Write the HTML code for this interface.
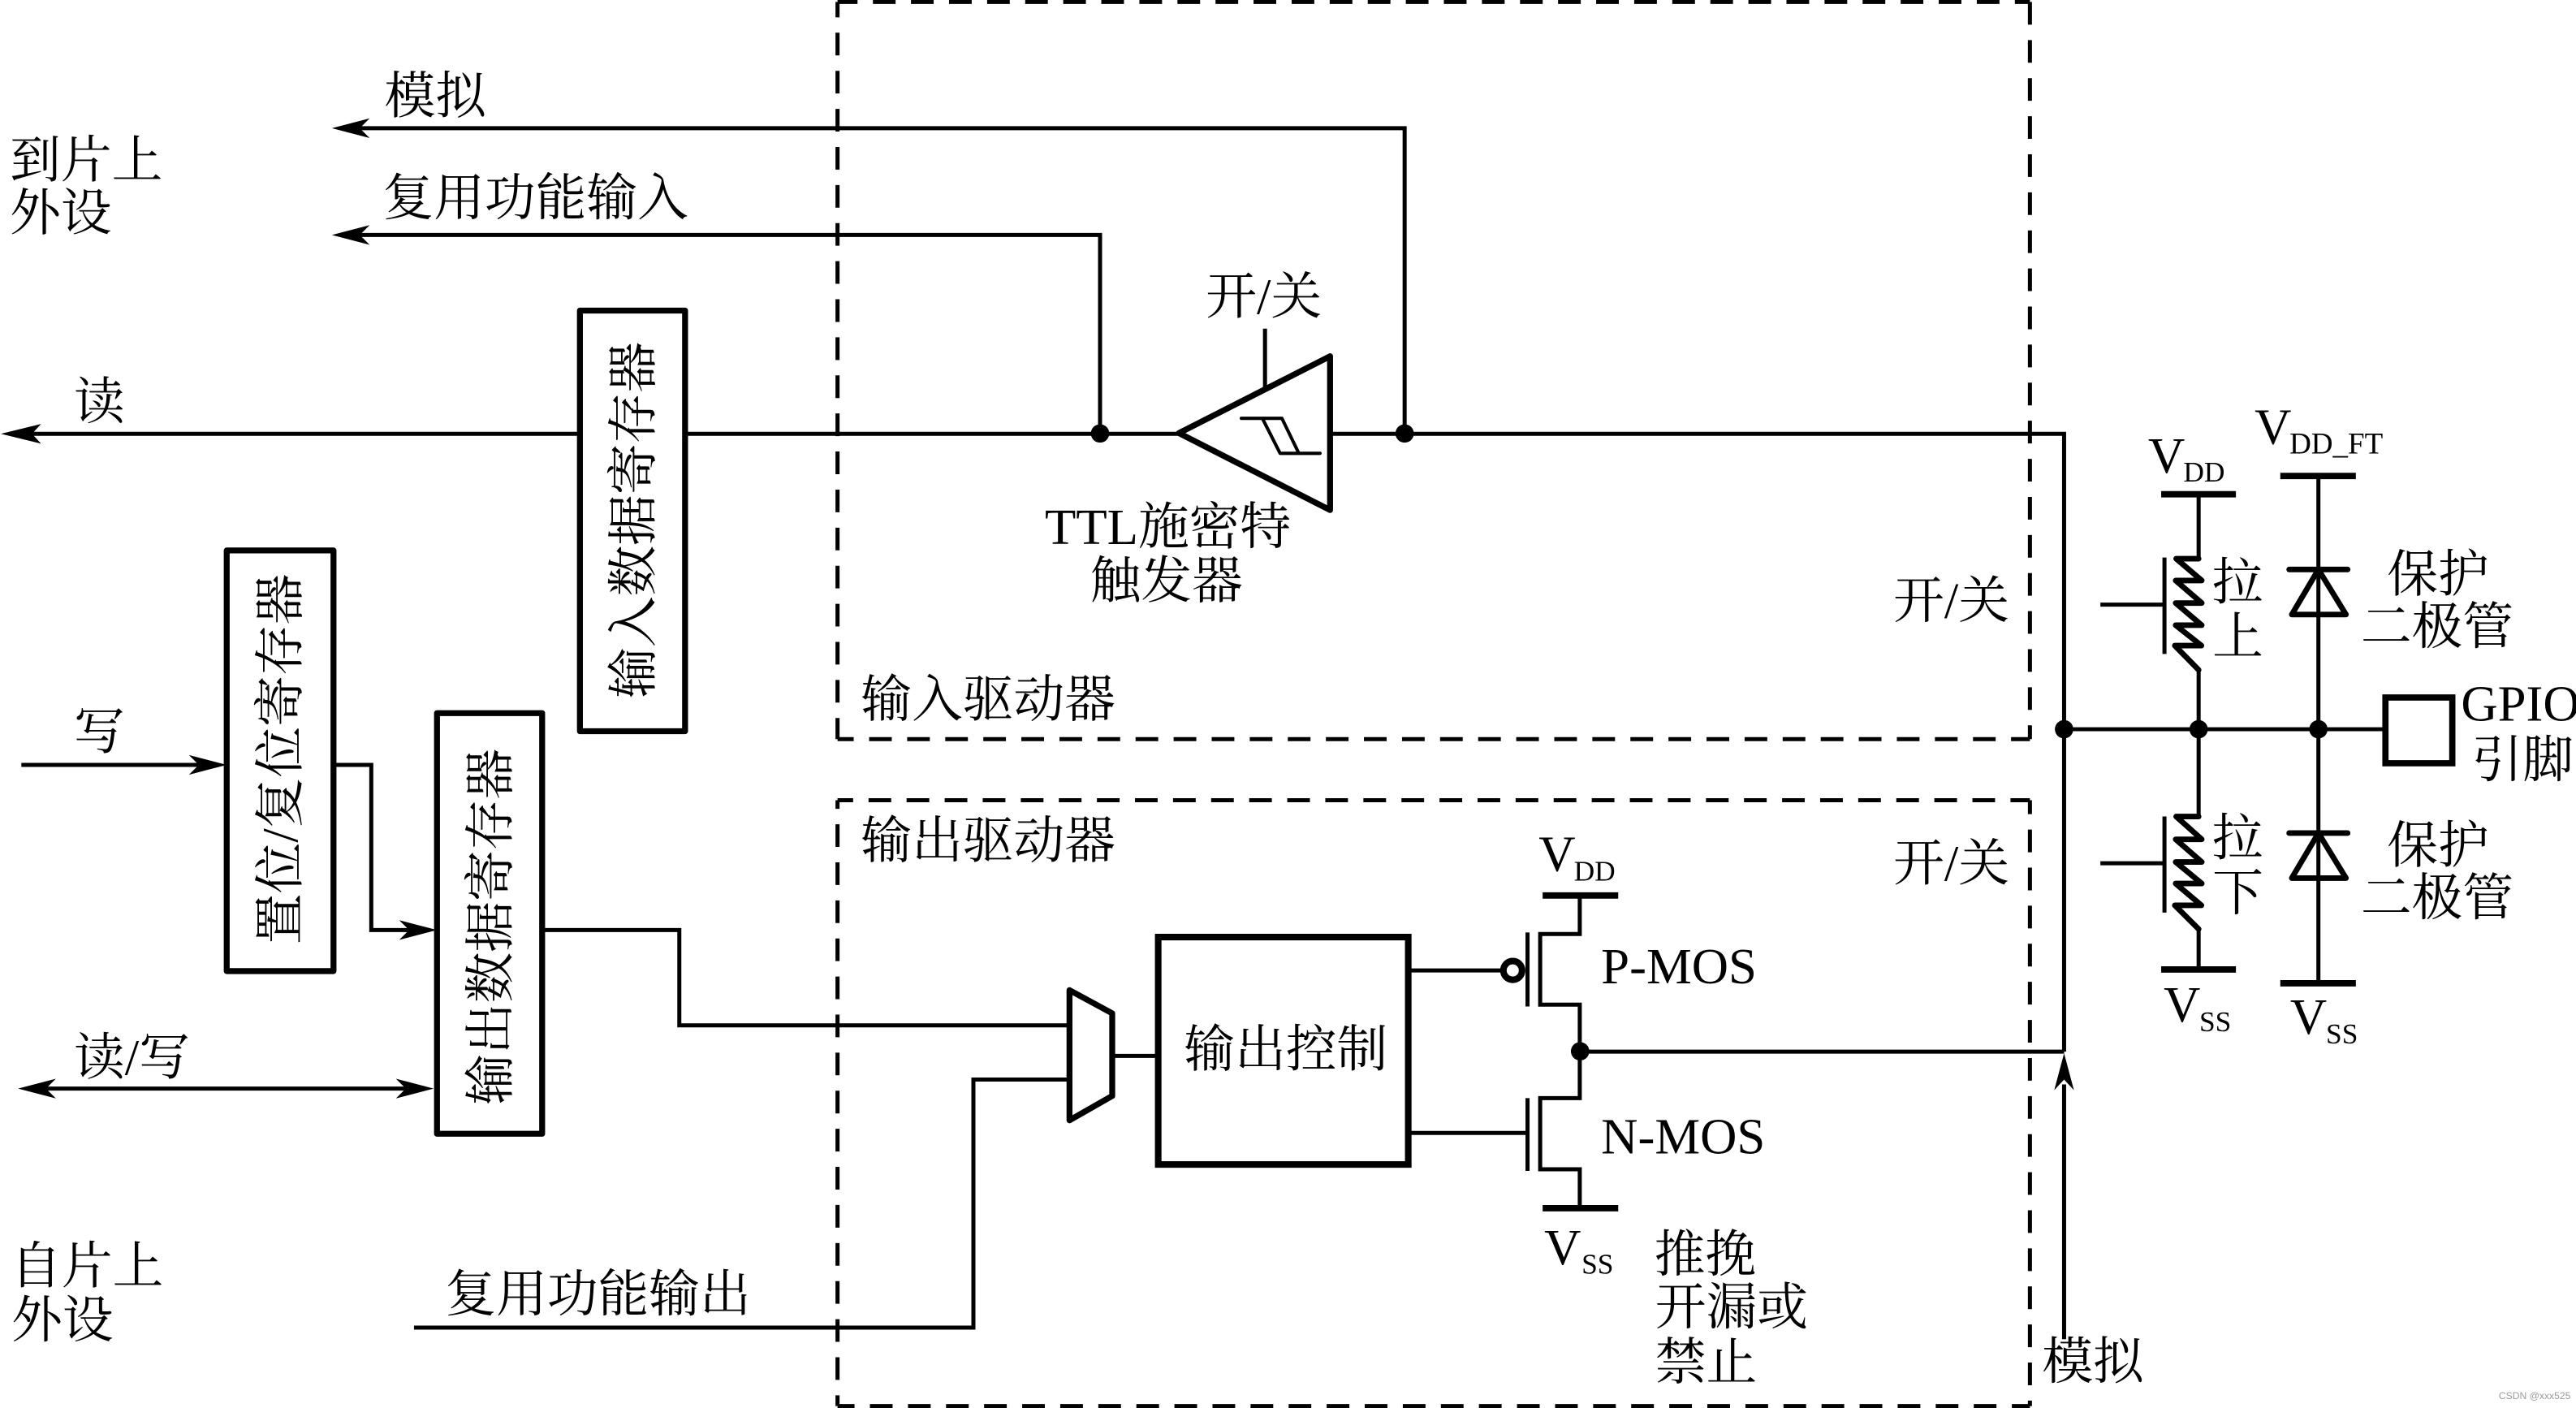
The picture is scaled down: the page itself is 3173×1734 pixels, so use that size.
<!DOCTYPE html>
<html lang="zh">
<head>
<meta charset="utf-8">
<title>GPIO</title>
<style>
html,body{margin:0;padding:0;background:#fff;overflow:hidden;width:3173px;height:1734px}
svg{display:block}
text{font-family:"Liberation Serif","Noto Serif CJK SC",serif;font-size:31px;fill:#000}
.s{font-size:17.5px}
.l{fill:none;stroke:#000;stroke-width:2.47}
.t{fill:none;stroke:#000;stroke-width:3.6;stroke-linejoin:round;stroke-linecap:round}
.z{fill:none;stroke:#000;stroke-width:3.4;stroke-linejoin:round;stroke-linecap:round}
.bar{fill:none;stroke:#000;stroke-width:3.9}
.d{fill:none;stroke:#000;stroke-width:2.47;stroke-dasharray:13.8 9.37}
.a{fill:#000;stroke:none}
</style>
</head>
<body>
<svg width="3173" height="1734" viewBox="0 0 1568 856.9" preserveAspectRatio="none" xmlns="http://www.w3.org/2000/svg">
<rect x="0" y="0" width="1568" height="857" fill="#fff"/>

<!-- dashed boxes -->
<path class="d" stroke-dashoffset="1.63" d="M509.8 1.2H1235.6"/>
<path class="d" stroke-dashoffset="4.45" d="M509.8 1.2V449.8"/>
<path class="d" d="M1235.6 1.2V449.8"/>
<path class="d" stroke-dashoffset="3.95" d="M509.8 449.8H1235.6"/>
<path class="d" stroke-dashoffset="4.3" d="M509.8 487H1235.6"/>
<path class="d" stroke-dashoffset="8.55" d="M509.8 487V855.7"/>
<path class="d" stroke-dashoffset="5.3" d="M1235.6 487V855.7"/>
<path class="d" stroke-dashoffset="3.46" d="M509.8 855.7H1235.6"/>

<!-- top signal lines -->
<path class="l" d="M855 264V78H215"/>
<path class="a" d="M202 78L225 72L219 78L225 84Z"/>
<path class="l" d="M669.6 264V143H215"/>
<path class="a" d="M202 143L225 137L219 143L225 149Z"/>
<path class="l" d="M353 264H15"/>
<path class="a" d="M0.5 264L25 258L19.5 264L25 270Z"/>
<path class="l" d="M417 264H717"/>
<path class="l" d="M810 264H1256.4V640"/>
<path class="l" d="M1256.4 660V815"/>
<path class="a" d="M1256.4 641L1262.4 663.5L1256.4 657L1250.4 663.5Z"/>
<circle cx="669.6" cy="263.8" r="5.6"/>
<circle cx="855" cy="263.8" r="5.6"/>

<!-- Schmitt trigger -->
<path class="t" d="M717.6 263.6L809.6 216.8V310.4Z"/>
<path class="l" d="M770 200V237"/>
<path d="M755.6 254.6H780.3L790.6 275.9H803.5M768.4 254.6L779.2 275.9H790.6" fill="none" stroke="#000" stroke-width="2" stroke-linecap="round" stroke-linejoin="round"/>

<!-- registers -->
<rect class="t" x="353" y="189" width="64" height="256"/>
<rect class="t" x="138" y="335" width="65" height="256"/>
<rect class="t" x="266" y="434" width="64" height="256"/>
<text transform="translate(396 316.5) rotate(-90)" text-anchor="middle">输入数据寄存器</text>
<text transform="translate(181 462) rotate(-90)" text-anchor="middle">置位/复位寄存器</text>
<text transform="translate(309 564) rotate(-90)" text-anchor="middle">输出数据寄存器</text>

<!-- left connections -->
<path class="l" d="M13 465.5H125"/>
<path class="a" d="M138 465.5L115 459.5L121 465.5L115 471.5Z"/>
<path class="l" d="M203 465.5H226V566H254"/>
<path class="a" d="M266 566L243 560L249 566L243 572Z"/>
<path class="l" d="M24 662.5H252"/>
<path class="a" d="M11 662.5L34 656.5L28 662.5L34 668.5Z"/>
<path class="a" d="M264 662.5L241 656.5L247 662.5L241 668.5Z"/>
<path class="l" d="M330 566H413.5V624H651"/>
<path class="l" d="M252 808H592.5V657H651"/>

<!-- mux and control -->
<path class="t" d="M651 602.6L677 616.7V667L651 681.8Z"/>
<path class="l" d="M677 642.6H705"/>
<rect x="705" y="570.3" width="152.2" height="138.4" fill="none" stroke="#000" stroke-width="4"/>
<text x="720.7" y="649">输出控制</text>

<!-- MOS -->
<path class="bar" d="M939 545H985"/>
<path class="l" d="M961.6 545V568.4H937.5V611.4H961.6V668.3H937.5V711.6H961.6V735.3"/>
<path class="bar" d="M939 735.3H985"/>
<path class="l" d="M929.8 567.5V612.5M929.8 668.3V712.6"/>
<path class="l" d="M857 590.6H915"/>
<circle cx="920.8" cy="590.6" r="5.7" fill="#fff" stroke="#000" stroke-width="4"/>
<path class="l" d="M857 689.5H930"/>
<circle cx="961.8" cy="639.8" r="5.6"/>
<path class="l" d="M961.8 640H1256.4"/>

<!-- right side -->
<path class="l" d="M1256.4 443.8H1452"/>
<circle cx="1256.4" cy="443.8" r="5.6"/>
<circle cx="1338.3" cy="443.8" r="5.6"/>
<circle cx="1411.2" cy="443.8" r="5.6"/>
<rect x="1452" y="424.5" width="40.7" height="40" fill="#fff" stroke="#000" stroke-width="3.8"/>

<path class="bar" d="M1315.5 300.8H1361"/>
<path class="l" d="M1338.3 300.8V340.6M1338.3 408.9V496.9M1338.3 565.4V590"/>
<path class="z" d="M1338.3 340H1324.6L1340.2 353.3H1324.3L1340.2 367H1324.3L1340.2 380.5H1324.3L1340 392.9H1323.8L1338.3 407.7"/>
<path class="l" d="M1317.5 339.3V398M1278.5 368H1317.5"/>
<path class="z" d="M1338.3 496.9H1324.6L1340.2 510.8H1324.3L1340.2 524.6H1324.3L1340.2 537.7H1324.3L1340 551H1323.8L1338.3 565.4"/>
<path class="l" d="M1317.5 496.9V555.4M1278.5 525.4H1317.5"/>
<path class="bar" d="M1315.5 590H1361"/>

<path class="bar" d="M1388 289.7H1434"/>
<path class="l" d="M1411.2 289.7V598.4"/>
<path class="bar" d="M1388 598.4H1434"/>
<path class="z" d="M1393.4 346.6H1429"/>
<path class="z" d="M1411.2 346.6L1395 374H1428Z"/>
<path class="z" d="M1393.4 507H1429"/>
<path class="z" d="M1411.2 507L1395 534.4H1428Z"/>

<!-- labels -->
<text x="234" y="69">模拟</text>
<text x="6" y="108">到片上</text>
<text x="6" y="140">外设</text>
<text x="233" y="131">复用功能输入</text>
<text x="45" y="255">读</text>
<text x="734" y="191">开/关</text>
<text x="636" y="331">TTL施密特</text>
<text x="663.5" y="364">触发器</text>
<text x="1152.5" y="376">开/关</text>
<text x="524" y="436">输入驱动器</text>
<text x="524" y="522">输出驱动器</text>
<text x="1152.5" y="536">开/关</text>
<text x="45" y="456">写</text>
<text x="45" y="654">读/写</text>
<text x="6.5" y="781">自片上</text>
<text x="7" y="814">外设</text>
<text x="271" y="798">复用功能输出</text>
<text x="1007" y="774">推挽</text>
<text x="1007.5" y="806">开漏或</text>
<text x="1007.5" y="839.5">禁止</text>
<text x="1243" y="839">模拟</text>
<text x="974.6" y="598.5">P-MOS</text>
<text x="974.6" y="702">N-MOS</text>

<text x="936.6" y="530">V</text><text class="s" x="958" y="536">DD</text>
<text x="940" y="769.5">V</text><text class="s" x="962.7" y="775">SS</text>
<text x="1307.6" y="287.6">V</text><text class="s" x="1329" y="293">DD</text>
<text x="1372.4" y="270">V</text><text class="s" style="font-size:18.3px" x="1393.6" y="276">DD_FT</text>
<text x="1317" y="621.8">V</text><text class="s" x="1338.7" y="627.6">SS</text>
<text x="1394" y="629">V</text><text class="s" x="1415.8" y="635">SS</text>

<text x="1346.5" y="365">拉</text>
<text x="1346.7" y="398">上</text>
<text x="1346.5" y="520.5">拉</text>
<text x="1346.7" y="554">下</text>
<text x="1453" y="360">保护</text>
<text x="1437" y="392">二极管</text>
<text x="1453" y="525">保护</text>
<text x="1437" y="557">二极管</text>
<text x="1498" y="438.5">GPIO</text>
<text x="1504.5" y="473">引脚</text>

<text x="1521" y="851.5" style="font-family:'Liberation Sans',sans-serif;font-size:6px;fill:#9a9a9a">CSDN @xxx525</text>
</svg>
</body>
</html>
